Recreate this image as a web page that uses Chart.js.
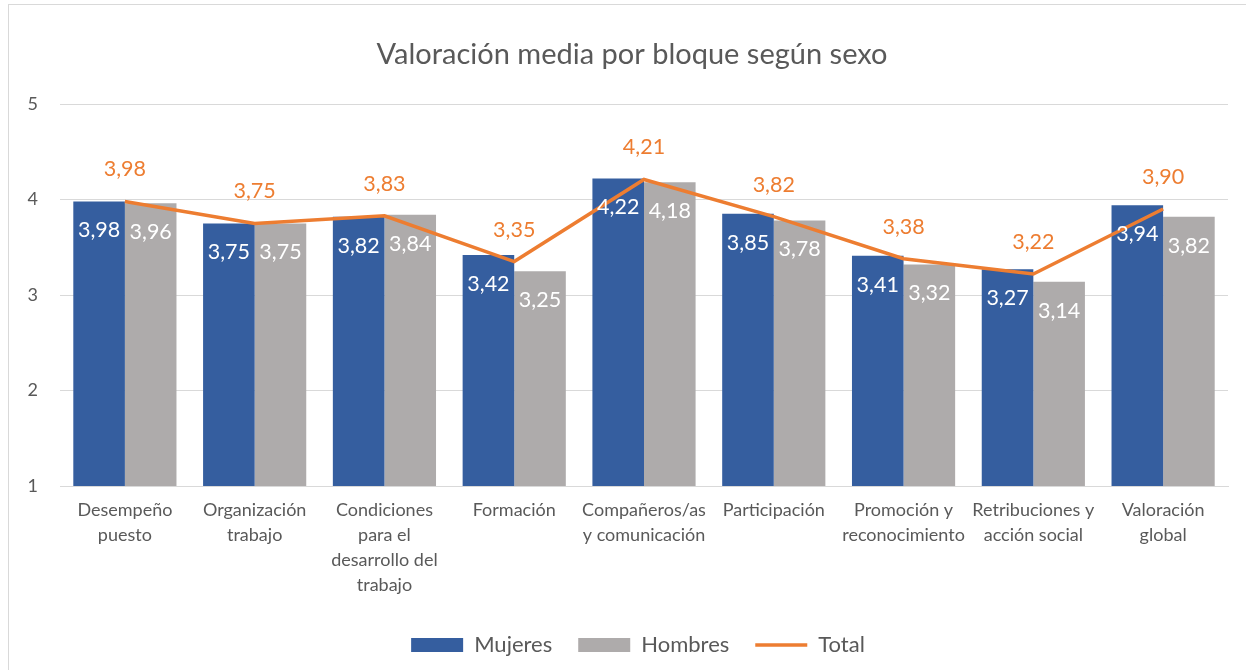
<!DOCTYPE html>
<html>
<head>
<meta charset="utf-8">
<script src="https://cdn.jsdelivr.net/npm/chart.js@4.4.1/dist/chart.umd.min.js"></script>
<style>
  html, body { margin: 0; padding: 0; background: #fff; overflow: hidden; }
  #wrap { position: relative; width: 1246px; height: 670px; }
  #frame { position: absolute; left: 8px; top: 4px; width: 1260px; height: 700px; border: 1px solid #d9d9d9; box-sizing: border-box; }
  canvas { position: absolute; left: 0; top: 0; }
</style>
</head>
<body>
<div id="wrap">
  <div id="frame"></div>
  <canvas id="chart" width="1246" height="670"></canvas>
</div>
<script>
const categories = [
    ['Desempeño', 'puesto'],
    ['Organización', 'trabajo'],
    ['Condiciones', 'para el', 'desarrollo del', 'trabajo'],
    'Formación',
    ['Compañeros/as', 'y comunicación'],
    'Participación',
    ['Promoción y', 'reconocimiento'],
    ['Retribuciones y', 'acción social'],
    ['Valoración', 'global']
];
const mujeres = [3.98, 3.75, 3.82, 3.42, 4.22, 3.85, 3.41, 3.27, 3.94];
const hombres = [3.96, 3.75, 3.84, 3.25, 4.18, 3.78, 3.32, 3.14, 3.82];
const total = [3.98, 3.75, 3.83, 3.35, 4.21, 3.82, 3.38, 3.22, 3.90];
const yTicks = [1, 2, 3, 4, 5];

const FONT = 'Lato, "Open Sans", sans-serif';
const TEXT = '#595959';
const BLUE = '#355e9f';
const GRAY = '#aeabab';
const ORANGE = '#ed7d31';

function fmt(v) {
    return v.toFixed(2).replace('.', ',');
}

// etiquetas de valor (como en Excel)
const valueLabels = {
    id: 'valueLabels',
    afterLayout(chart) {
        // centrar titulo y leyenda sobre el area del grafico
        chart.titleBlock.left += 18;
        chart.titleBlock.right += 18;
        chart.legend.left += 24;
        chart.legend.right += 24;
    },
    afterDatasetsDraw(chart) {
        const ctx = chart.ctx;
        ctx.save();
        ctx.textAlign = 'center';
        ctx.textBaseline = 'middle';
        ctx.font = '21.5px ' + FONT;
        [0, 1].forEach(i => {
            const ds = chart.data.datasets[i];
            chart.getDatasetMeta(i).data.forEach((el, j) => {
                ctx.fillStyle = '#ffffff';
                ctx.fillText(fmt(ds.data[j]), el.x, el.y + 29);
            });
        });
        const line = chart.data.datasets[2];
        chart.getDatasetMeta(2).data.forEach((el, j) => {
            ctx.fillStyle = ORANGE;
            ctx.fillText(fmt(line.data[j]), el.x, el.y - 32);
        });
        ctx.restore();
    }
};

new Chart(document.getElementById('chart'), {
    type: 'bar',
    data: {
        labels: categories,
        datasets: [
            {
                label: 'Mujeres',
                data: mujeres,
                backgroundColor: BLUE,
                categoryPercentage: 0.795,
                barPercentage: 1,
                order: 1
            },
            {
                label: 'Hombres',
                data: hombres,
                backgroundColor: GRAY,
                categoryPercentage: 0.795,
                barPercentage: 1,
                order: 1
            },
            {
                type: 'line',
                label: 'Total',
                data: total,
                borderColor: ORANGE,
                backgroundColor: ORANGE,
                borderWidth: 3.5,
                pointRadius: 0,
                tension: 0,
                order: 0
            }
        ]
    },
    plugins: [valueLabels],
    options: {
        responsive: false,
        animation: false,
        layout: { padding: { left: 0, right: 18, top: 0, bottom: 4 } },
        plugins: {
            tooltip: { enabled: false },
            title: {
                display: true,
                text: 'Valoración media por bloque según sexo',
                color: TEXT,
                font: { family: FONT, size: 29, weight: 'normal' },
                padding: { top: 37.6, bottom: 31.6 }
            },
            legend: {
                position: 'bottom',
                labels: {
                    color: TEXT,
                    font: { family: FONT, size: 22 },
                    usePointStyle: true,
                    pointStyleWidth: 52,
                    boxHeight: 14,
                    padding: 26,
                    sort: (a, b) => a.datasetIndex - b.datasetIndex,
                    generateLabels(chart) {
                        return chart.data.datasets.map((ds, i) => ({
                            text: ds.label,
                            datasetIndex: i,
                            fillStyle: ds.type === 'line' ? ORANGE : ds.backgroundColor,
                            strokeStyle: ds.type === 'line' ? ORANGE : ds.backgroundColor,
                            lineWidth: ds.type === 'line' ? 3.5 : 0,
                            pointStyle: ds.type === 'line' ? 'line' : 'rect',
                            fontColor: TEXT,
                            hidden: false
                        }));
                    }
                }
            }
        },
        scales: {
            x: {
                grid: { display: false, drawTicks: false },
                border: { display: true, color: '#d9d9d9', width: 1 },
                ticks: {
                    color: TEXT,
                    font: { family: FONT, size: 18, lineHeight: 1.39 },
                    padding: 12,
                    maxRotation: 0,
                    autoSkip: false
                },
                afterFit(s) { s.height = 122; }
            },
            y: {
                min: 1,
                max: 5,
                afterBuildTicks(s) { s.ticks = yTicks.map(v => ({ value: v })); },
                grid: { color: '#d9d9d9', lineWidth: 1, drawTicks: false },
                border: { display: false },
                ticks: {
                    color: TEXT,
                    font: { family: FONT, size: 18 },
                    padding: 22
                },
                afterFit(s) { s.width = 60; }
            }
        }
    }
});
</script>
</body>
</html>
